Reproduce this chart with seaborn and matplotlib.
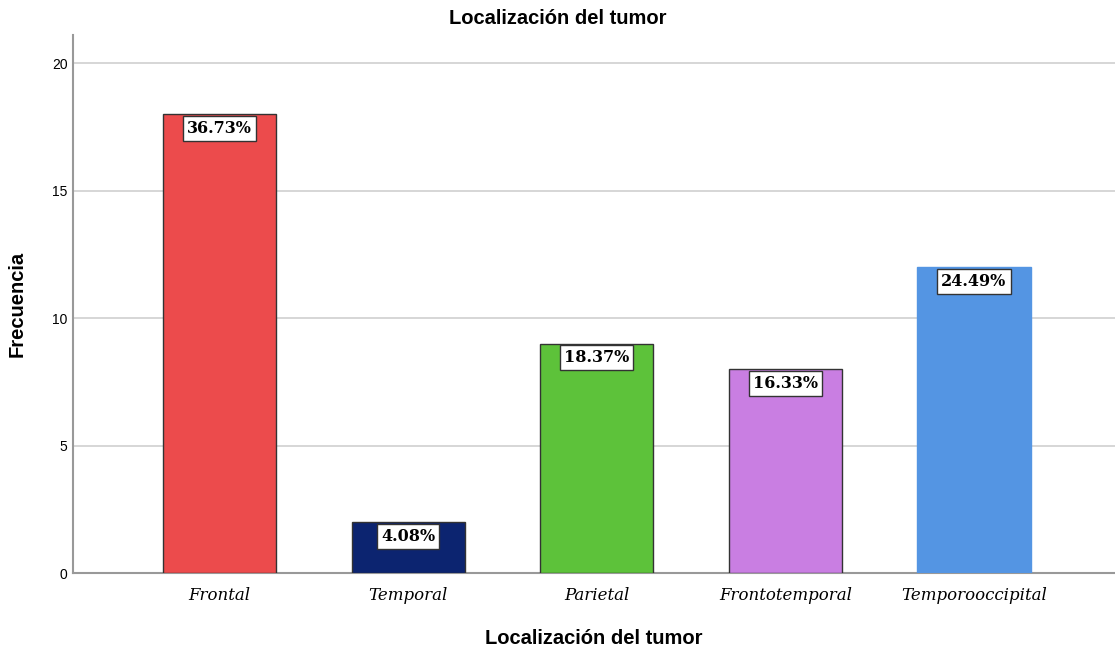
import matplotlib
matplotlib.use("Agg")
import matplotlib.pyplot as plt
import seaborn as sns
import pandas as pd

# Tumour location counts
categories = ["Frontal", "Temporal", "Parietal", "Frontotemporal", "Temporooccipital"]
counts = [18, 2, 9, 8, 12]
colors = ["#EC4B4C", "#0C2470", "#5DC23A", "#C97EE2", "#5495E3"]
edge_colors = ["#333333", "#333333", "#333333", "#333333", "#5495E3"]
y_ticks = [0, 5, 10, 15, 20]

sns.set_theme(style="white")
plt.rcParams["font.family"] = ["Liberation Sans", "DejaVu Sans"]
plt.rcParams["text.color"] = "black"
plt.rcParams["axes.labelcolor"] = "black"
plt.rcParams["xtick.color"] = "black"
plt.rcParams["ytick.color"] = "black"

df = pd.DataFrame({"cat": categories, "n": counts})
total = sum(counts)

fig = plt.figure(figsize=(11.15, 6.48), dpi=100)
ax = fig.add_axes([0.0655, 0.1157, 0.9345, 0.8303])

sns.barplot(data=df, x="cat", y="n", hue="cat", palette=colors, order=categories,
            hue_order=categories, width=0.6, saturation=1, legend=False, ax=ax, zorder=3)

for patch, ec in zip(ax.patches, edge_colors):
    patch.set_edgecolor(ec)
    patch.set_linewidth(1.0)

for i, n in enumerate(counts):
    ax.text(i, n - 0.22, f"{100 * n / total:.2f}%", ha="center", va="top",
            fontsize=11.5, fontweight="bold", family="DejaVu Serif",
            color="black", zorder=5,
            bbox=dict(boxstyle="square,pad=0.25", facecolor="white",
                      edgecolor="#333333", linewidth=1.0))

ax.set_xlim(-0.777, 4.748)
ax.set_ylim(0, 21.1)
ax.set_yticks(y_ticks)
ax.set_yticklabels([str(t) for t in y_ticks], fontsize=10)
ax.yaxis.grid(True, color="#CFCFCF", linewidth=1.2, zorder=0)
ax.xaxis.grid(False)
ax.tick_params(axis="x", length=0, pad=10)
ax.tick_params(axis="y", length=0, pad=4)
for lbl in ax.get_xticklabels():
    lbl.set_family("DejaVu Serif")
    lbl.set_style("italic")
    lbl.set_fontsize(12)

for side in ["top", "right"]:
    ax.spines[side].set_visible(False)
for side in ["left", "bottom"]:
    ax.spines[side].set_color("#999999")
    ax.spines[side].set_linewidth(1.5)

fig.text(0.5, 1 - 18 / 648, "Localización del tumor", ha="center", va="center",
         fontsize=14.5, fontweight="bold")
ax.set_xlabel("Localización del tumor", fontsize=14.5, fontweight="bold", labelpad=18)
ax.set_ylabel("Frecuencia", fontsize=14.5, fontweight="bold", labelpad=18)

fig.savefig("out.png", dpi=100)
